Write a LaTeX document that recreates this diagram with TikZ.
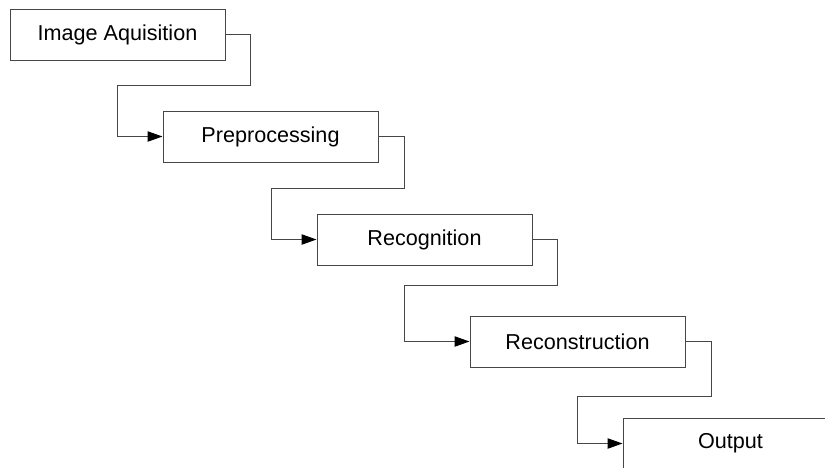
\documentclass[tikz,border=0pt]{standalone}
\usepackage{fontspec}
\setmainfont{Liberation Sans}
\usetikzlibrary{arrows.meta}
\definecolor{boxline}{RGB}{70, 70, 70}

\begin{document}
\begin{tikzpicture}[x=0.5pt, y=-0.5pt,
        stagebox/.style={draw=boxline, line width=0.5pt, fill=white,
            minimum width=107.5pt, minimum height=25.5pt, inner sep=0pt,
            align=center, font=\fontsize{10.8}{13}\selectfont},
        arr/.style={-{Triangle[length=7.5pt, width=5.2pt, color=black, fill=black]},
            draw=boxline, line width=0.5pt}
    ]

    \clip (0,0) rectangle (825,467);

    \node[stagebox] (acq) at (117.5, 34.5) {Image Aquisition};
    \node[stagebox] (pre) at (270.5, 136.5) {Preprocessing};
    \node[stagebox] (rec) at (424.5, 239.5) {Recognition};
    \node[stagebox] (recon) at (577.5, 341.5) {Reconstruction};
    \node[stagebox] (out) at (730.5, 443.5) {Output};

    \draw[arr] (acq.east) -- ++(25,0) |- ++(-133,51) |- (pre.west);
    \draw[arr] (pre.east) -- ++(26,0) |- ++(-133,52) |- (rec.west);
    \draw[arr] (rec.east) -- ++(25,0) |- ++(-153,46) |- (recon.west);
    \draw[arr] (recon.east) -- ++(26,0) |- ++(-134,55) |- (out.west);

\end{tikzpicture}
\end{document}
